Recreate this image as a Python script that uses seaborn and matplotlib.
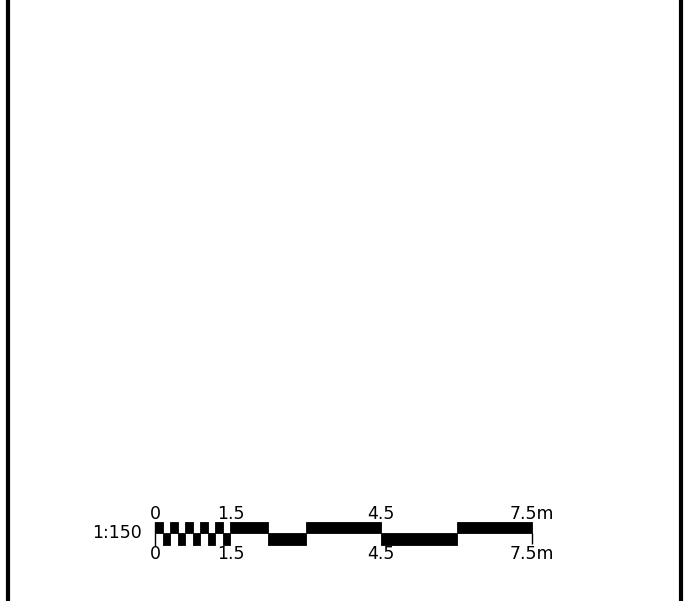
"""
Scale bar 1:150 - recreated with seaborn / matplotlib
"""
import matplotlib
matplotlib.use("Agg")
import matplotlib.pyplot as plt
import seaborn as sns

# scale bar data (metres)
SCALE_TEXT = "1:150"
FINE_STEP = 0.15          # checker cells between 0 and 1.5 m
FINE_END = 1.5
COARSE_EDGES = [1.5, 2.25, 3.0, 4.5, 6.0, 7.5]
COARSE_ROWS = ["top", "bottom", "top", "bottom", "top"]
TICK_VALUES = [0, 1.5, 4.5, 7.5]
TICK_LABELS = ["0", "1.5", "4.5", "7.5m"]

sns.set_style("white")
plt.rcParams["font.family"] = ["DejaVu Sans"]
plt.rcParams["text.color"] = "black"

W, H, DPI = 692, 601, 100
PX_PER_M = 50.3
X0_PX = 155            # pixel position of 0 m
LEFT_PX, RIGHT_PX = 7.5, 680.5

fig = plt.figure(figsize=(W / DPI, H / DPI), dpi=DPI)
ax = fig.add_axes([LEFT_PX / W, 0, (RIGHT_PX - LEFT_PX) / W, 1])
ax.set_xlim((LEFT_PX - X0_PX) / PX_PER_M, (RIGHT_PX - X0_PX) / PX_PER_M)
ax.set_ylim(H, 0)
ax.set_xticks([])
ax.set_yticks([])
for side in ["top", "bottom"]:
    ax.spines[side].set_visible(False)
for side in ["left", "right"]:
    ax.spines[side].set_linewidth(3)
    ax.spines[side].set_color("black")

ROW_Y = {"top": (521.5, 11.8), "bottom": (533.3, 11.8)}
bar_kw = dict(facecolor="black", edgecolor="black", lw=0.6)

# fine checker part
n_fine = int(round(FINE_END / FINE_STEP))
for i in range(n_fine):
    row = "top" if i % 2 == 0 else "bottom"
    ax.broken_barh([(i * FINE_STEP, FINE_STEP)], ROW_Y[row], **bar_kw)

# coarse part
for (a, b), row in zip(zip(COARSE_EDGES[:-1], COARSE_EDGES[1:]), COARSE_ROWS):
    ax.broken_barh([(a, b - a)], ROW_Y[row], **bar_kw)

# thin end lines
ax.vlines([TICK_VALUES[0]], 521.5, 545.5, color="black", lw=1)
ax.vlines([TICK_VALUES[-1]], 533, 544, color="black", lw=1)

for v, lab in zip(TICK_VALUES, TICK_LABELS):
    ax.text(v, 514, lab, ha="center", va="center", fontsize=12.5)
    ax.text(v, 554, lab, ha="center", va="center", fontsize=12.5)

ax.text((142 - X0_PX) / PX_PER_M, 533.5, SCALE_TEXT, ha="right", va="center", fontsize=12.5)

fig.savefig("out.png", dpi=DPI)
